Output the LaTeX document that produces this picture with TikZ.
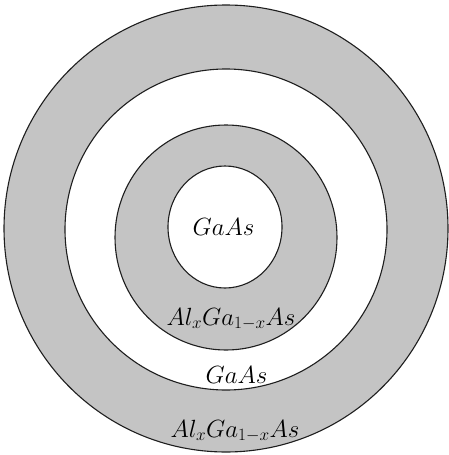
\documentclass[tikz,border=0pt]{standalone}
\usepackage{tikz}
\definecolor{ringgray}{RGB}{196,196,196}
\definecolor{edge}{RGB}{30,30,30}
\begin{document}
\begin{tikzpicture}[x=1pt,y=-1pt,
  ring/.style={draw=edge,line width=1.1pt},
  lbl/.style={inner sep=0pt,anchor=base,font=\fontsize{25}{30}\selectfont}]
\useasboundingbox (0,0) rectangle (449,455);
\clip (0,0) rectangle (449,455);
\fill[white] (0,0) rectangle (449,455);
\draw[ring,fill=ringgray] (226,228.5) ellipse [x radius=222,y radius=223.5];
\draw[ring,fill=white] (226,229.5) ellipse [x radius=161,y radius=160.5];
\draw[ring,fill=ringgray] (226,237.5) ellipse [x radius=111,y radius=112.5];
\draw[ring,fill=white] (225,227) ellipse [x radius=57,y radius=61];
\node[lbl] (core) at (223.5,235) {$GaAs$};
\node[lbl] (shell1) at (231,325) {$Al_xGa_{1-x}As$};
\node[lbl] (shell2) at (236.5,383) {$GaAs$};
\node[lbl] (shell3) at (235,437) {$Al_xGa_{1-x}As$};
\end{tikzpicture}
\end{document}
